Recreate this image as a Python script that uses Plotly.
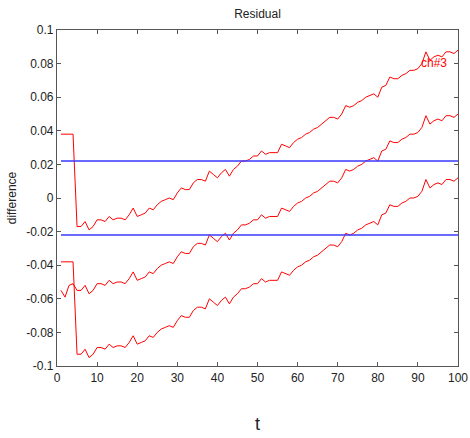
import plotly.graph_objects as go

t = list(range(1, 101))

residual = [
    -0.055, -0.059, -0.052, -0.051, -0.055, -0.055, -0.052, -0.057, -0.055, -0.051,
    -0.051, -0.052, -0.049, -0.051, -0.050, -0.050, -0.051, -0.048, -0.044, -0.049,
    -0.048, -0.047, -0.044, -0.045, -0.042, -0.040, -0.039, -0.038, -0.039, -0.035,
    -0.032, -0.033, -0.033, -0.029, -0.027, -0.027, -0.028, -0.022, -0.024, -0.026,
    -0.023, -0.021, -0.025, -0.021, -0.019, -0.016, -0.016, -0.015, -0.013, -0.013,
    -0.010, -0.012, -0.011, -0.011, -0.011, -0.006, -0.007, -0.008, -0.005, -0.003,
    -0.002, 0.000, 0.001, 0.003, 0.004, 0.006, 0.008, 0.010, 0.010, 0.009,
    0.012, 0.017, 0.016, 0.017, 0.019, 0.020, 0.022, 0.023, 0.024, 0.022,
    0.028, 0.029, 0.034, 0.033, 0.033, 0.035, 0.036, 0.038, 0.038, 0.039,
    0.042, 0.049, 0.044, 0.046, 0.047, 0.046, 0.049, 0.049, 0.048, 0.050,
]

upper = [
    0.038, 0.038, 0.038, 0.038, -0.017, -0.017, -0.014, -0.019, -0.017, -0.013,
    -0.013, -0.014, -0.011, -0.013, -0.012, -0.012, -0.013, -0.010, -0.006, -0.011,
    -0.010, -0.009, -0.006, -0.007, -0.004, -0.002, -0.001, 0.000, -0.001, 0.003,
    0.006, 0.005, 0.005, 0.009, 0.011, 0.011, 0.010, 0.016, 0.014, 0.012,
    0.015, 0.017, 0.013, 0.017, 0.019, 0.022, 0.022, 0.023, 0.025, 0.025,
    0.028, 0.026, 0.027, 0.027, 0.027, 0.032, 0.031, 0.030, 0.033, 0.035,
    0.036, 0.038, 0.039, 0.041, 0.042, 0.044, 0.046, 0.048, 0.048, 0.047,
    0.050, 0.055, 0.054, 0.055, 0.057, 0.058, 0.060, 0.061, 0.062, 0.060,
    0.066, 0.067, 0.072, 0.071, 0.071, 0.073, 0.074, 0.076, 0.076, 0.077,
    0.080, 0.087, 0.082, 0.084, 0.085, 0.084, 0.087, 0.087, 0.086, 0.088,
]

lower = [
    -0.038, -0.038, -0.038, -0.038, -0.093, -0.093, -0.090, -0.095, -0.093, -0.089,
    -0.089, -0.090, -0.087, -0.089, -0.088, -0.088, -0.089, -0.086, -0.082, -0.087,
    -0.086, -0.085, -0.082, -0.083, -0.080, -0.078, -0.077, -0.076, -0.077, -0.073,
    -0.070, -0.071, -0.071, -0.067, -0.065, -0.065, -0.066, -0.060, -0.062, -0.064,
    -0.061, -0.059, -0.063, -0.059, -0.057, -0.054, -0.054, -0.053, -0.051, -0.051,
    -0.048, -0.050, -0.049, -0.049, -0.049, -0.044, -0.045, -0.046, -0.043, -0.041,
    -0.040, -0.038, -0.037, -0.035, -0.034, -0.032, -0.030, -0.028, -0.028, -0.029,
    -0.026, -0.021, -0.022, -0.021, -0.019, -0.018, -0.016, -0.015, -0.014, -0.016,
    -0.010, -0.009, -0.004, -0.005, -0.005, -0.003, -0.002, 0.000, 0.000, 0.001,
    0.004, 0.011, 0.006, 0.008, 0.009, 0.008, 0.011, 0.011, 0.010, 0.012,
]

threshold_hi = 0.022
threshold_lo = -0.022

y_ticks = [0.1, 0.08, 0.06, 0.04, 0.02, 0, -0.02, -0.04, -0.06, -0.08, -0.1]
y_tick_text = ["0.1", "0.08", "0.06", "0.04", "0.02", "0", "-0.02", "-0.04", "-0.06", "-0.08", "-0.1"]
x_ticks = [0, 10, 20, 30, 40, 50, 60, 70, 80, 90, 100]

FONT = "Liberation Sans, Arial, sans-serif"

fig = go.Figure()
for series in (upper, residual, lower):
    fig.add_trace(go.Scatter(x=t, y=series, mode="lines",
                             line=dict(color="#ff0000", width=1), showlegend=False,
                             hoverinfo="skip"))
for lvl in (threshold_hi, threshold_lo):
    fig.add_trace(go.Scatter(x=[t[0], t[-1]], y=[lvl, lvl], mode="lines",
                             line=dict(color="#3838ff", width=1.5), showlegend=False,
                             hoverinfo="skip"))

fig.add_annotation(x=90.3, y=0.0805, text="ch#3", showarrow=False,
                   xanchor="left", yanchor="middle",
                   font=dict(family=FONT, size=12, color="#ff0000"))

axis_common = dict(showgrid=False, zeroline=False, showline=True, linecolor="#555555",
                   linewidth=1.2, mirror="ticks", ticks="inside", ticklen=4,
                   tickcolor="#555555", automargin=False,
                   tickfont=dict(family=FONT, size=12, color="#222222"))

fig.update_layout(
    width=470, height=438,
    margin=dict(l=57, r=12, t=30, b=72),
    paper_bgcolor="white", plot_bgcolor="white",
    title=dict(text="Residual", x=(57 + 458) / 2 / 470, xanchor="center",
               y=1 - 14 / 438, yanchor="middle",
               font=dict(family=FONT, size=12, color="#222222")),
    xaxis=dict(range=[0, 100], tickvals=x_ticks,
               title=dict(text="t", font=dict(family=FONT, size=18, color="#222222"), standoff=33),
               **axis_common),
    yaxis=dict(range=[-0.1, 0.1], tickvals=y_ticks, ticktext=y_tick_text,
               title=dict(text="difference", font=dict(family=FONT, size=12, color="#222222"), standoff=6),
               **axis_common),
)

fig.write_html("out.html")
